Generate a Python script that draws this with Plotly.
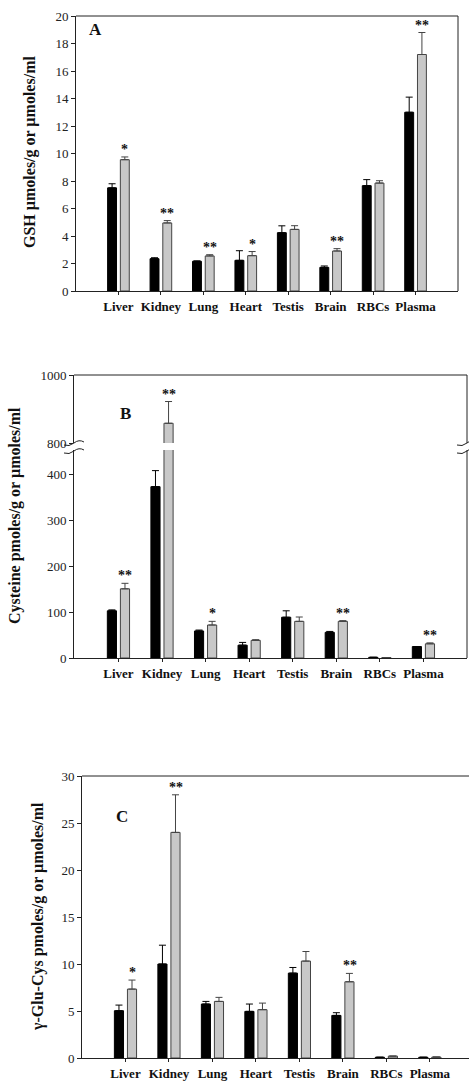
import plotly.graph_objects as go

W, H = 469, 1084
FONT = "Liberation Serif"

cats = ["Liver", "Kidney", "Lung", "Heart", "Testis", "Brain", "RBCs", "Plasma"]

# Panel A - GSH
gsh_ctrl = [7.5, 2.35, 2.16, 2.23, 4.24, 1.72, 7.66, 13.0]
gsh_ctrl_err = [0.3, 0.07, 0.03, 0.7, 0.5, 0.1, 0.44, 1.1]
gsh_trt = [9.55, 4.95, 2.55, 2.57, 4.48, 2.91, 7.85, 17.2]
gsh_trt_err = [0.2, 0.17, 0.09, 0.3, 0.27, 0.17, 0.17, 1.6]
gsh_sig = ["*", "**", "**", "*", "", "**", "", "**"]

# Panel B - Cysteine
cys_ctrl = [103, 374, 59, 28, 89, 56, 1.5, 25]
cys_ctrl_err = [2, 35, 2, 6, 14, 2, 0, 0]
cys_trt = [151, 858, 72, 38.5, 80, 80, 1, 31]
cys_trt_err = [12, 64, 8, 1.5, 9.5, 1.5, 0, 2]
cys_sig = ["**", "**", "*", "", "", "**", "", "**"]

# Panel C - gamma-Glu-Cys
glc_ctrl = [5.03, 10.0, 5.74, 4.96, 9.03, 4.53, 0.08, 0.08]
glc_ctrl_err = [0.6, 2.0, 0.28, 0.78, 0.6, 0.29, 0.0, 0.0]
glc_trt = [7.33, 24.0, 6.02, 5.14, 10.31, 8.11, 0.2, 0.1]
glc_trt_err = [0.96, 4.0, 0.43, 0.7, 1.02, 0.89, 0.0, 0.0]
glc_sig = ["*", "**", "", "", "", "**", "", ""]

BLACK = "#000000"
GREY = "#c8c8c8"
EDGE = "#444444"
AXC = "#222222"


def px(x):
    return x / W


def py(y):
    return 1 - y / H


fig = go.Figure()


def add_pair(ctrl, cerr, trt, terr, xa, ya):
    fig.add_trace(go.Bar(
        x=cats, y=ctrl, xaxis=xa, yaxis=ya, marker=dict(color=BLACK, line=dict(color=BLACK, width=1)),
        error_y=dict(type="data", array=cerr, arrayminus=[0] * len(cerr), symmetric=False,
                     color=BLACK, thickness=1, width=3.5),
        showlegend=False, hoverinfo="skip"))
    fig.add_trace(go.Bar(
        x=cats, y=trt, xaxis=xa, yaxis=ya, marker=dict(color=GREY, line=dict(color=EDGE, width=1)),
        error_y=dict(type="data", array=terr, arrayminus=[0] * len(terr), symmetric=False,
                     color=EDGE, thickness=1, width=3.5),
        showlegend=False, hoverinfo="skip"))


add_pair(gsh_ctrl, gsh_ctrl_err, gsh_trt, gsh_trt_err, "x", "y")
add_pair(cys_ctrl, cys_ctrl_err, cys_trt, cys_trt_err, "x2", "y2")
add_pair(cys_ctrl, cys_ctrl_err, cys_trt, cys_trt_err, "x4", "y3")
add_pair(glc_ctrl, glc_ctrl_err, glc_trt, glc_trt_err, "x3", "y4")

tickf = dict(family=FONT, size=13, color="#222")
catf = dict(family=FONT, size=13, color="#111", weight="bold")

common_x = dict(type="category", showline=True, linecolor=AXC, linewidth=1, ticks="outside",
                ticklen=3, tickcolor=AXC, tickfont=catf, showgrid=False, zeroline=False,
                fixedrange=True, automargin=False)
common_y = dict(showline=True, linecolor=AXC, linewidth=1, ticks="outside", ticklen=4,
                tickcolor=AXC, tickfont=tickf, showgrid=False, zeroline=False, fixedrange=True,
                automargin=False)

fig.update_layout(
    width=W, height=H, autosize=False,
    margin=dict(l=0, r=0, t=0, b=0, pad=0),
    paper_bgcolor="white", plot_bgcolor="white",
    barmode="group", bargap=0.4, bargroupgap=0.3,
    font=dict(family=FONT, color="#111"),
    # Panel A
    xaxis=dict(**common_x, domain=[px(76), px(458)], anchor="y", range=[-1, 8]),
    yaxis=dict(**common_y, domain=[py(291), py(16)], anchor="x", range=[0, 20], dtick=2),
    # Panel B lower
    xaxis2=dict(**common_x, domain=[px(74), px(467)], anchor="y2", range=[-1.02, 8]),
    yaxis2=dict(**common_y, domain=[py(658), py(450)], anchor="x2", range=[0, 454],
                tickvals=[0, 100, 200, 300, 400]),
    # Panel B upper
    xaxis4=dict(type="category", domain=[px(74), px(467)], anchor="y3", range=[-1.02, 8],
                showline=False, ticks="", showticklabels=False, showgrid=False, zeroline=False,
                fixedrange=True, automargin=False),
    yaxis3=dict(**common_y, domain=[py(443), py(375)], anchor="x4", range=[800, 1000],
                tickvals=[800, 1000]),
    # Panel C
    xaxis3=dict(**common_x, domain=[px(82), 1.0], anchor="y4", range=[-1, 7.9]),
    yaxis4=dict(**common_y, domain=[py(1058), py(776)], anchor="x3", range=[0, 30], dtick=5),
)

ann = []


def stars(sig, vals, errs, xa, ya, shift, override=None):
    for i, s in enumerate(sig):
        if not s:
            continue
        yy, xx = ya, xa
        if override and i in override:
            xx, yy = override[i]
        ann.append(dict(x=cats[i], y=vals[i] + errs[i], xref=xx, yref=yy, text=s,
                        showarrow=False, xshift=shift, xanchor="center", yanchor="bottom", yshift=-2,
                        font=dict(family=FONT, size=14, color="#111", weight="bold")))


stars(gsh_sig, gsh_trt, gsh_trt_err, "x", "y", 6.5)
stars(cys_sig, cys_trt, cys_trt_err, "x2", "y2", 6.7, override={1: ("x4", "y3")})
stars(glc_sig, glc_trt, glc_trt_err, "x3", "y4", 6.7)

# Panel letters
for lab, (lx, ly) in {"A": (95, 30), "B": (125, 413), "C": (122, 816)}.items():
    ann.append(dict(x=px(lx), y=py(ly), xref="paper", yref="paper", text=lab, showarrow=False,
                    xanchor="center", yanchor="middle",
                    font=dict(family=FONT, size=17, color="#111", weight="bold")))

# Y-axis titles
titles = [("GSH µmoles/g or µmoles/ml", 30, 152),
          ("Cysteine pmoles/g or µmoles/ml", 15, 516),
          ("γ-Glu-Cys pmoles/g or µmoles/ml", 38, 917)]
for t, tx, ty in titles:
    ann.append(dict(x=px(tx), y=py(ty), xref="paper", yref="paper", text=t, showarrow=False,
                    xanchor="center", yanchor="middle", textangle=-90,
                    font=dict(family=FONT, size=16, color="#111", weight="bold")))

fig.update_layout(annotations=ann)

line = dict(color=AXC, width=1)
shapes = []


def seg(xr, yr, x0, y0, x1, y1):
    shapes.append(dict(type="line", xref=xr, yref=yr, x0=x0, y0=y0, x1=x1, y1=y1, line=line,
                       layer="above"))


# Frame lines (top / right borders)
seg("x domain", "y domain", 0, 1, 1, 1)
seg("x domain", "y domain", 1, 0, 1, 1)
seg("x4 domain", "y3 domain", 0, 1, 1, 1)
seg("x4 domain", "y3 domain", 1, 0, 1, 1)
seg("x2 domain", "y2 domain", 1, 0, 1, 1)
seg("x3 domain", "y4 domain", 0, 1, 1, 1)

# Axis break marks (panel B)
for xc in (74, 467):
    for yb in (443, 451):
        shapes.append(dict(type="path", xref="paper", yref="paper",
                           path=(f"M {px(xc-10)},{py(yb+2)} Q {px(xc-5)},{py(yb+4)} {px(xc)},{py(yb)} "
                                 f"Q {px(xc+5)},{py(yb-4)} {px(xc+10)},{py(yb-1)}"),
                           line=line))
fig.update_layout(shapes=shapes)

fig.write_html("out.html", config={"displayModeBar": False},
               post_script="document.body.style.margin='0';document.body.style.overflow='hidden';")
